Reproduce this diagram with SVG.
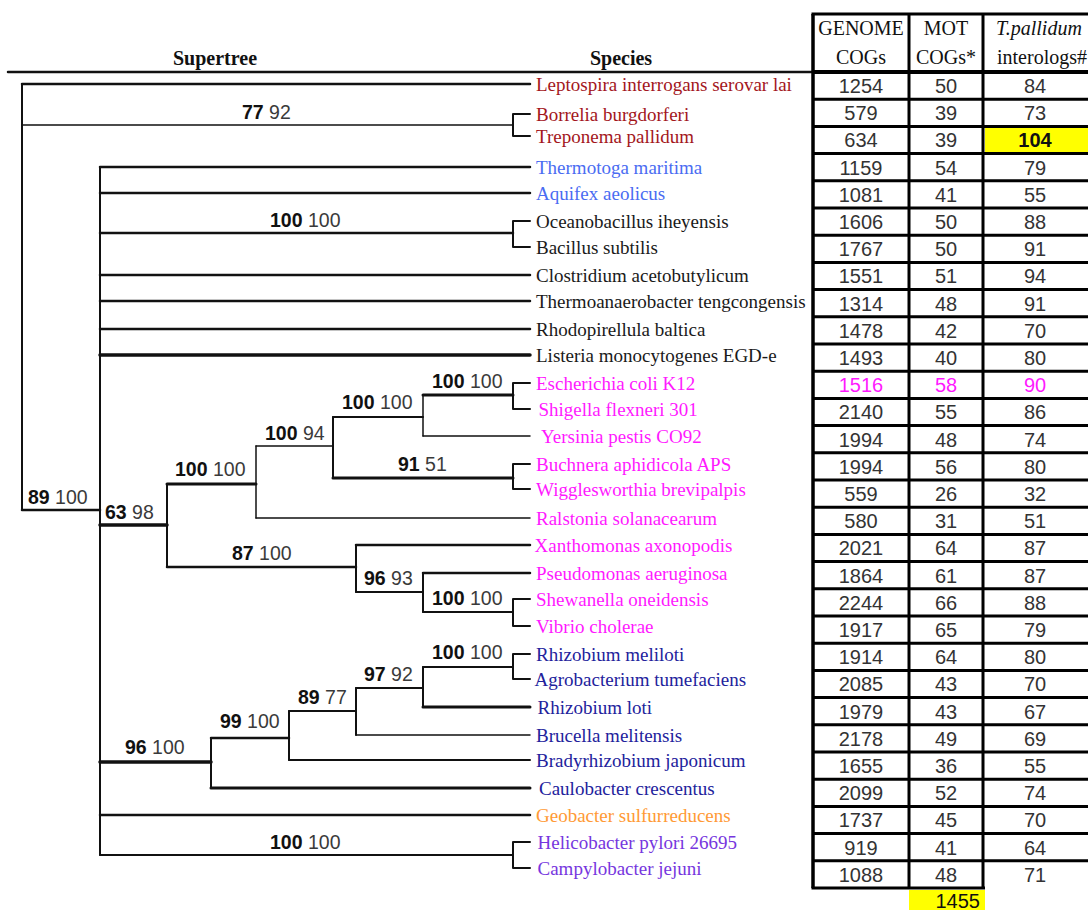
<svg xmlns="http://www.w3.org/2000/svg" width="1088" height="910" viewBox="0 0 1088 910">
<style>
.sp{font-family:"Liberation Serif","Times New Roman",serif;font-size:19px}
.red{fill:#a3161c}.blu{fill:#4a6cf2}.blk{fill:#1a1a1a}.mag{fill:#ff19ff}.nav{fill:#22229c}.org{fill:#ff9a35}.pur{fill:#7636de}
.bs{font-family:"Liberation Sans",Arial,sans-serif;font-size:19.5px;fill:#3a3a3a}
.b{font-weight:bold;fill:#111}
.num{font-family:"Liberation Sans",Arial,sans-serif;font-size:20px;fill:#333;text-anchor:middle}
.hd{font-family:"Liberation Serif","Times New Roman",serif;font-size:20px;fill:#111;text-anchor:middle}
.ttl{font-family:"Liberation Serif","Times New Roman",serif;font-size:20px;font-weight:bold;fill:#111;text-anchor:middle}
.br{fill:none;stroke:#111;stroke-linejoin:round;stroke-linecap:round}
.tl{fill:none;stroke:#000}
</style>
<rect x="0" y="0" width="1088" height="910" fill="#fff"/>

<g id="titles">
<text class="ttl" x="215" y="65">Supertree</text>
<text class="ttl" x="621" y="65">Species</text>
</g>

<g id="connectors">
<path class="br" stroke-width="2.5" d="M8,72 H813"/>
<path class="br" stroke-width="2" d="M22,84 V510"/>
<path class="br" stroke-width="2.5" d="M22,84 H530"/>
<path class="br" stroke-width="1.5" d="M22,125 H513"/>
<path class="br" stroke-width="2" d="M530,114 H513 V136 H530"/>
<path class="br" stroke-width="2.5" d="M22,510 H100"/>
<path class="br" stroke-width="2" d="M100,167 V855"/>
<path class="br" stroke-width="2.5" d="M100,167 H530 M100,193 H530"/>
<path class="br" stroke-width="2.5" d="M100,233 H513"/>
<path class="br" stroke-width="2" d="M530,221 H513 V247 H530"/>
<path class="br" stroke-width="2.5" d="M100,275 H530 M100,301 H530 M100,329 H530"/>
<path class="br" stroke-width="3.5" d="M100,355 H530"/>
<path class="br" stroke-width="3.5" d="M100,525 H167"/>
<path class="br" stroke-width="3.5" d="M100,762 H211"/>
<path class="br" stroke-width="2.5" d="M100,815 H530"/>
<path class="br" stroke-width="2" d="M100,855 H513"/>
<path class="br" stroke-width="2" d="M530,842 H513 V868 H530"/>
<path class="br" stroke-width="2" d="M167,484 V567"/>
<path class="br" stroke-width="3" d="M167,484 H256"/>
<path class="br" stroke-width="2.5" d="M167,567 H356"/>
<path class="br" stroke-width="1.5" d="M256,446 V518"/>
<path class="br" stroke-width="1.5" d="M256,446 H333"/>
<path class="br" stroke-width="1.5" d="M256,518 H530"/>
<path class="br" stroke-width="2" d="M333,417 V478"/>
<path class="br" stroke-width="2" d="M333,417 H423"/>
<path class="br" stroke-width="3" d="M333,478 H513"/>
<path class="br" stroke-width="2" d="M530,464 H513 V489 H530"/>
<path class="br" stroke-width="1.5" d="M423,395 V436"/>
<path class="br" stroke-width="3" d="M423,395 H513"/>
<path class="br" stroke-width="1.5" d="M423,436 H530"/>
<path class="br" stroke-width="2" d="M530,383 H513 V409 H530"/>
<path class="br" stroke-width="2" d="M356,545 V592"/>
<path class="br" stroke-width="2.5" d="M356,545 H530"/>
<path class="br" stroke-width="2" d="M356,592 H423"/>
<path class="br" stroke-width="2" d="M423,573 V612"/>
<path class="br" stroke-width="2.5" d="M423,573 H530"/>
<path class="br" stroke-width="2" d="M423,612 H513"/>
<path class="br" stroke-width="2" d="M530,599 H513 V626 H530"/>
<path class="br" stroke-width="2" d="M211,738 V788"/>
<path class="br" stroke-width="2.5" d="M211,738 H289"/>
<path class="br" stroke-width="3" d="M211,788 H530"/>
<path class="br" stroke-width="2" d="M289,711 V760"/>
<path class="br" stroke-width="2" d="M289,711 H356"/>
<path class="br" stroke-width="2" d="M289,760 H530"/>
<path class="br" stroke-width="2" d="M356,688 V735"/>
<path class="br" stroke-width="2" d="M356,688 H423"/>
<path class="br" stroke-width="1.5" d="M356,735 H530"/>
<path class="br" stroke-width="2" d="M423,667 V707"/>
<path class="br" stroke-width="2" d="M423,667 H513"/>
<path class="br" stroke-width="3" d="M423,707 H530"/>
<path class="br" stroke-width="2" d="M530,654 H513 V679 H530"/>
</g>

<g id="support-labels">
<g id="n-borrelia"><text class="bs" x="242" y="119"><tspan class="b">77</tspan> 92</text></g>
<g id="n-bacillus"><text class="bs" x="270" y="227"><tspan class="b">100</tspan> 100</text></g>
<g id="n-root"><text class="bs" x="28" y="504"><tspan class="b">89</tspan> 100</text></g>
<g id="n-proteo"><text class="bs" x="105" y="519"><tspan class="b">63</tspan> 98</text></g>
<g id="n-gammabeta"><text class="bs" x="175" y="476"><tspan class="b">100</tspan> 100</text></g>
<g id="n-gamma"><text class="bs" x="265" y="440"><tspan class="b">100</tspan> 94</text></g>
<g id="n-entero"><text class="bs" x="342" y="409"><tspan class="b">100</tspan> 100</text></g>
<g id="n-ecoli"><text class="bs" x="432" y="388"><tspan class="b">100</tspan> 100</text></g>
<g id="n-buchnera"><text class="bs" x="398" y="471"><tspan class="b">91</tspan> 51</text></g>
<g id="n-xantho"><text class="bs" x="232" y="560"><tspan class="b">87</tspan> 100</text></g>
<g id="n-pseudo"><text class="bs" x="364" y="585"><tspan class="b">96</tspan> 93</text></g>
<g id="n-shew"><text class="bs" x="432" y="605"><tspan class="b">100</tspan> 100</text></g>
<g id="n-meliloti"><text class="bs" x="432" y="659"><tspan class="b">100</tspan> 100</text></g>
<g id="n-rloti"><text class="bs" x="364" y="681"><tspan class="b">97</tspan> 92</text></g>
<g id="n-brucella"><text class="bs" x="298" y="704"><tspan class="b">89</tspan> 77</text></g>
<g id="n-brady"><text class="bs" x="220" y="728"><tspan class="b">99</tspan> 100</text></g>
<g id="n-alpha"><text class="bs" x="125" y="754"><tspan class="b">96</tspan> 100</text></g>
<g id="n-epsilon"><text class="bs" x="270" y="849"><tspan class="b">100</tspan> 100</text></g>
</g>

<g id="species">
<g id="sp-01"><text class="sp red" x="536" y="91">Leptospira interrogans serovar lai</text></g>
<g id="sp-02"><text class="sp red" x="536" y="121">Borrelia burgdorferi</text></g>
<g id="sp-03"><text class="sp red" x="536" y="143">Treponema pallidum</text></g>
<g id="sp-04"><text class="sp blu" x="536" y="174">Thermotoga maritima</text></g>
<g id="sp-05"><text class="sp blu" x="536" y="200">Aquifex aeolicus</text></g>
<g id="sp-06"><text class="sp blk" x="536" y="228">Oceanobacillus iheyensis</text></g>
<g id="sp-07"><text class="sp blk" x="536" y="254">Bacillus subtilis</text></g>
<g id="sp-08"><text class="sp blk" x="536" y="282">Clostridium acetobutylicum</text></g>
<g id="sp-09"><text class="sp blk" x="536" y="308">Thermoanaerobacter tengcongensis</text></g>
<g id="sp-10"><text class="sp blk" x="536" y="336">Rhodopirellula baltica</text></g>
<g id="sp-11"><text class="sp blk" x="536" y="362">Listeria monocytogenes EGD-e</text></g>
<g id="sp-12"><text class="sp mag" x="536" y="390">Escherichia coli K12</text></g>
<g id="sp-13"><text class="sp mag" x="538.5" y="416">Shigella flexneri 301</text></g>
<g id="sp-14"><text class="sp mag" x="541" y="443">Yersinia pestis CO92</text></g>
<g id="sp-15"><text class="sp mag" x="536" y="471">Buchnera aphidicola APS</text></g>
<g id="sp-16"><text class="sp mag" x="536" y="496">Wigglesworthia brevipalpis</text></g>
<g id="sp-17"><text class="sp mag" x="536" y="525">Ralstonia solanacearum</text></g>
<g id="sp-18"><text class="sp mag" x="534.5" y="552">Xanthomonas axonopodis</text></g>
<g id="sp-19"><text class="sp mag" x="536" y="580">Pseudomonas aeruginosa</text></g>
<g id="sp-20"><text class="sp mag" x="536" y="606">Shewanella oneidensis</text></g>
<g id="sp-21"><text class="sp mag" x="536" y="633">Vibrio cholerae</text></g>
<g id="sp-22"><text class="sp nav" x="536" y="661">Rhizobium meliloti</text></g>
<g id="sp-23"><text class="sp nav" x="534.5" y="686">Agrobacterium tumefaciens</text></g>
<g id="sp-24"><text class="sp nav" x="537.5" y="714">Rhizobium loti</text></g>
<g id="sp-25"><text class="sp nav" x="536" y="742">Brucella melitensis</text></g>
<g id="sp-26"><text class="sp nav" x="536" y="767">Bradyrhizobium japonicum</text></g>
<g id="sp-27"><text class="sp nav" x="539" y="795">Caulobacter crescentus</text></g>
<g id="sp-28"><text class="sp org" x="536" y="822">Geobacter sulfurreducens</text></g>
<g id="sp-29"><text class="sp pur" x="537.5" y="849">Helicobacter pylori 26695</text></g>
<g id="sp-30"><text class="sp pur" x="537.5" y="875">Campylobacter jejuni</text></g>
</g>

<g id="table">
<rect x="985" y="128" width="105" height="24" fill="#ffff00"/>
<rect x="909" y="890" width="76" height="22" fill="#ffff00"/>
<path class="tl" stroke-width="3.5" d="M813,14 V888"/>
<path class="tl" stroke-width="3" d="M811.5,14 H1090 M811.5,888 H985"/>
<path class="tl" stroke-width="3" d="M909,14 V888 M983,14 V888"/>
<path class="tl" stroke-width="4" d="M813,72 H1090"/>
<path class="tl" stroke-width="3" d="M813,99.2 H1090 M813,126.4 H1090 M813,153.6 H1090 M813,180.8 H1090 M813,208 H1090 M813,235.2 H1090 M813,262.4 H1090 M813,289.6 H1090 M813,316.8 H1090 M813,344 H1090 M813,371.2 H1090 M813,398.4 H1090 M813,425.6 H1090 M813,452.8 H1090 M813,480 H1090 M813,507.2 H1090 M813,534.4 H1090 M813,561.6 H1090 M813,588.8 H1090 M813,616 H1090 M813,643.2 H1090 M813,670.4 H1090 M813,697.6 H1090 M813,724.8 H1090 M813,752 H1090 M813,779.2 H1090 M813,806.4 H1090 M813,833.6 H1090 M813,860.8 H1090"/>
<g id="table-header">
<text class="hd" x="861" y="35">GENOME</text>
<text class="hd" x="861" y="64">COGs</text>
<text class="hd" x="946" y="35">MOT</text>
<text class="hd" x="946" y="64">COGs*</text>
<text class="hd" x="1039" y="35" font-style="italic">T.pallidum</text>
<text class="hd" x="1042" y="64">interologs#</text>
</g>
<g id="col-genome">
<text class="num" x="861" y="93">1254</text>
<text class="num" x="861" y="120.2">579</text>
<text class="num" x="861" y="147.4">634</text>
<text class="num" x="861" y="174.6">1159</text>
<text class="num" x="861" y="201.8">1081</text>
<text class="num" x="861" y="229">1606</text>
<text class="num" x="861" y="256.2">1767</text>
<text class="num" x="861" y="283.4">1551</text>
<text class="num" x="861" y="310.6">1314</text>
<text class="num" x="861" y="337.8">1478</text>
<text class="num" x="861" y="365">1493</text>
<text class="num" x="861" y="392.2" style="fill:#ff19ff">1516</text>
<text class="num" x="861" y="419.4">2140</text>
<text class="num" x="861" y="446.6">1994</text>
<text class="num" x="861" y="473.8">1994</text>
<text class="num" x="861" y="501">559</text>
<text class="num" x="861" y="528.2">580</text>
<text class="num" x="861" y="555.4">2021</text>
<text class="num" x="861" y="582.6">1864</text>
<text class="num" x="861" y="609.8">2244</text>
<text class="num" x="861" y="637">1917</text>
<text class="num" x="861" y="664.2">1914</text>
<text class="num" x="861" y="691.4">2085</text>
<text class="num" x="861" y="718.6">1979</text>
<text class="num" x="861" y="745.8">2178</text>
<text class="num" x="861" y="773">1655</text>
<text class="num" x="861" y="800.2">2099</text>
<text class="num" x="861" y="827.4">1737</text>
<text class="num" x="861" y="854.6">919</text>
<text class="num" x="861" y="881.8">1088</text>
</g>
<g id="col-mot">
<text class="num" x="946" y="93">50</text>
<text class="num" x="946" y="120.2">39</text>
<text class="num" x="946" y="147.4">39</text>
<text class="num" x="946" y="174.6">54</text>
<text class="num" x="946" y="201.8">41</text>
<text class="num" x="946" y="229">50</text>
<text class="num" x="946" y="256.2">50</text>
<text class="num" x="946" y="283.4">51</text>
<text class="num" x="946" y="310.6">48</text>
<text class="num" x="946" y="337.8">42</text>
<text class="num" x="946" y="365">40</text>
<text class="num" x="946" y="392.2" style="fill:#ff19ff">58</text>
<text class="num" x="946" y="419.4">55</text>
<text class="num" x="946" y="446.6">48</text>
<text class="num" x="946" y="473.8">56</text>
<text class="num" x="946" y="501">26</text>
<text class="num" x="946" y="528.2">31</text>
<text class="num" x="946" y="555.4">64</text>
<text class="num" x="946" y="582.6">61</text>
<text class="num" x="946" y="609.8">66</text>
<text class="num" x="946" y="637">65</text>
<text class="num" x="946" y="664.2">64</text>
<text class="num" x="946" y="691.4">43</text>
<text class="num" x="946" y="718.6">43</text>
<text class="num" x="946" y="745.8">49</text>
<text class="num" x="946" y="773">36</text>
<text class="num" x="946" y="800.2">52</text>
<text class="num" x="946" y="827.4">45</text>
<text class="num" x="946" y="854.6">41</text>
<text class="num" x="946" y="881.8">48</text>
<text class="num" x="980" y="907.5" style="text-anchor:end;fill:#111">1455</text>
</g>
<g id="col-tpallidum">
<text class="num" x="1035" y="93">84</text>
<text class="num" x="1035" y="120.2">73</text>
<text class="num" x="1035" y="147.4" style="fill:#111;font-weight:bold">104</text>
<text class="num" x="1035" y="174.6">79</text>
<text class="num" x="1035" y="201.8">55</text>
<text class="num" x="1035" y="229">88</text>
<text class="num" x="1035" y="256.2">91</text>
<text class="num" x="1035" y="283.4">94</text>
<text class="num" x="1035" y="310.6">91</text>
<text class="num" x="1035" y="337.8">70</text>
<text class="num" x="1035" y="365">80</text>
<text class="num" x="1035" y="392.2" style="fill:#ff19ff">90</text>
<text class="num" x="1035" y="419.4">86</text>
<text class="num" x="1035" y="446.6">74</text>
<text class="num" x="1035" y="473.8">80</text>
<text class="num" x="1035" y="501">32</text>
<text class="num" x="1035" y="528.2">51</text>
<text class="num" x="1035" y="555.4">87</text>
<text class="num" x="1035" y="582.6">87</text>
<text class="num" x="1035" y="609.8">88</text>
<text class="num" x="1035" y="637">79</text>
<text class="num" x="1035" y="664.2">80</text>
<text class="num" x="1035" y="691.4">70</text>
<text class="num" x="1035" y="718.6">67</text>
<text class="num" x="1035" y="745.8">69</text>
<text class="num" x="1035" y="773">55</text>
<text class="num" x="1035" y="800.2">74</text>
<text class="num" x="1035" y="827.4">70</text>
<text class="num" x="1035" y="854.6">64</text>
<text class="num" x="1035" y="881.8">71</text>
</g>
</g>
</svg>
